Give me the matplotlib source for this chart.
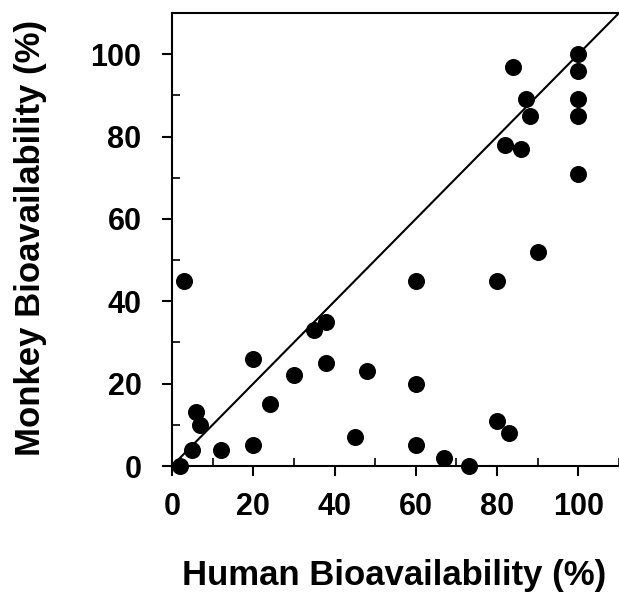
import matplotlib
matplotlib.use("Agg")
import matplotlib.pyplot as plt
from matplotlib.ticker import MultipleLocator

plt.rcParams['font.family'] = ['Liberation Sans', 'DejaVu Sans']

human = [2, 3, 5, 6, 7, 12, 20, 20, 24, 30, 35, 38, 38, 45, 48, 60, 60, 60, 67, 73,
         80, 80, 83, 90, 82, 86, 84, 87, 88, 100, 100, 100, 100, 100]
monkey = [0, 45, 4, 13, 10, 4, 26, 5, 15, 22, 33, 35, 25, 7, 23, 45, 20, 5, 2, 0,
          45, 11, 8, 52, 78, 77, 97, 89, 85, 100, 96, 89, 85, 71]
x_ticks = [0, 20, 40, 60, 80, 100]
y_ticks = [0, 20, 40, 60, 80, 100]
x_label = "Human Bioavailability (%)"
y_label = "Monkey Bioavailability (%)"

fig = plt.figure(figsize=(6.19, 5.93), dpi=100)
ax = fig.add_axes([172/619, 1-466/593, 1-172/619, (466-13)/593])

ax.plot([0, 110], [0, 110], color='black', lw=1.5, zorder=2)
ax.scatter(human, monkey, s=150, color='black', zorder=3, clip_on=False, linewidths=0)

ax.set_xlim(0, 110)
ax.set_ylim(0, 110)
ax.spines['right'].set_visible(False)
for s in ['left', 'bottom', 'top']:
    ax.spines[s].set_linewidth(1.5)

ax.set_xticks(x_ticks)
ax.set_yticks(y_ticks)
ax.xaxis.set_minor_locator(MultipleLocator(10))
ax.yaxis.set_minor_locator(MultipleLocator(10))
ax.tick_params(which='major', direction='out', length=7, width=1.5, labelsize=22)
ax.tick_params(axis='x', which='major', pad=12)
ax.tick_params(axis='y', which='major', pad=15)
ax.tick_params(which='minor', direction='in', length=6, width=1.2)
ax.tick_params(top=False, right=False, which='both')
for lab in ax.get_xticklabels() + ax.get_yticklabels():
    lab.set_fontweight('bold')

ax.set_xlabel(x_label, fontsize=25, fontweight='bold')
ax.set_ylabel(y_label, fontsize=25, fontweight='bold')
ax.xaxis.set_label_coords((394 - 172) / (619 - 172), -(559 - 466) / (466 - 13))
ax.yaxis.set_label_coords(-(172 - 47) / (619 - 172), (466 - 238) / (466 - 13))

fig.savefig("out.png", dpi=100)
